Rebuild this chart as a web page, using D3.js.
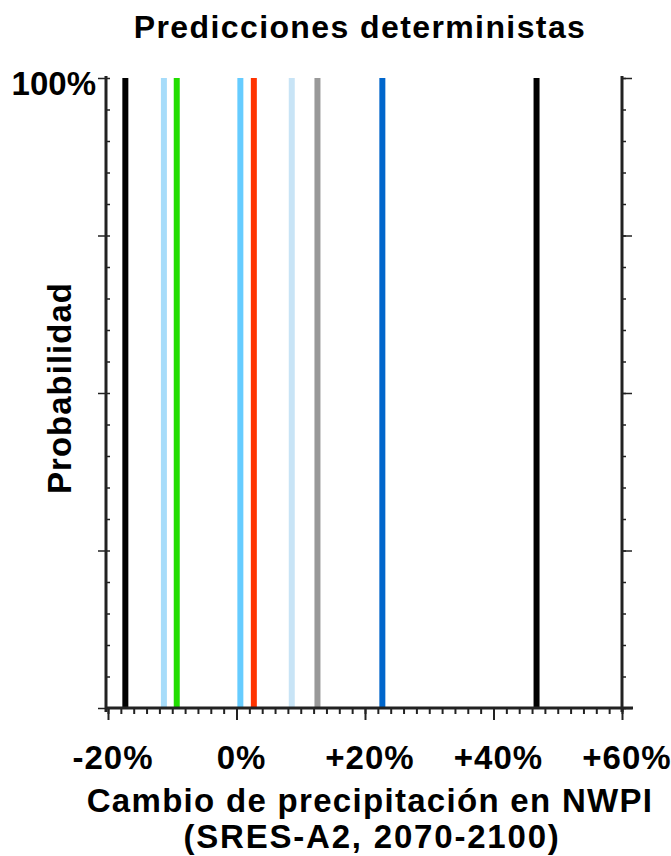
<!DOCTYPE html>
<html><head><meta charset="utf-8">
<script src="https://cdn.jsdelivr.net/npm/d3@7"></script>
<style>
html,body{margin:0;padding:0;background:#fff;}
svg{display:block;}
text{font-family:"Liberation Sans",Arial,sans-serif;font-weight:bold;fill:#000;}
</style></head>
<body>
<svg id="chart" width="671" height="856"></svg>
<script>
// Data: deterministic model predictions (% change in precipitation)
const models = ["m1","m2","m3","m4","m5","m6","m7","m8","m9"];
const changes = [-17.3, -11.3, -9.3, 0.6, 2.7, 8.6, 12.6, 22.7, 46.7];
const modelColors = ["#000000","#a6dcfa","#22dd00","#66ccff","#ff3300","#c8e4f6","#999999","#0066cc","#000000"];
const xTicks = [-20, 0, 20, 40, 60];
const xTickLabels = ["-20%","0%","+20%","+40%","+60%"];
const yTopLabel = "100%";
const title = "Predicciones deterministas";
const xTitle1 = "Cambio de precipitación en NWPI";
const xTitle2 = "(SRES-A2, 2070-2100)";
const yTitle = "Probabilidad";

(function () {
const svg = d3.select("#chart");
const mLeft = 108, mRight = 622, mTop = 78, mBottom = 708;
const x = d3.scaleLinear().domain([-20, 60]).range([mLeft, mRight]);
const y = d3.scaleLinear().domain([0, 100]).range([mBottom, mTop]);

// data lines
svg.append("g").selectAll("line").data(changes).join("line")
  .attr("x1", d => x(d)).attr("x2", d => x(d))
  .attr("y1", y(0)).attr("y2", y(100))
  .attr("stroke", (d,i) => modelColors[i]).attr("stroke-width", 6);

const axisColor = "#222";
// x axis
const gx = svg.append("g").attr("transform", `translate(0,${mBottom})`);
gx.append("g").call(d3.axisBottom(x).tickValues(d3.range(-20, 61, 2)).tickSize(6).tickFormat(""));
gx.append("g").call(d3.axisBottom(x).tickValues(xTicks).tickSize(12).tickFormat(""));
gx.selectAll(".domain").remove();
gx.selectAll("line").attr("stroke", axisColor).attr("stroke-width", 2);
gx.append("line").attr("x1", mLeft - 3).attr("x2", mRight + 11).attr("y1", 0).attr("y2", 0)
  .attr("stroke", axisColor).attr("stroke-width", 3);

// x tick labels
svg.append("g").selectAll("text").data(xTicks).join("text")
  .attr("x", d => x(d) + 5).attr("y", 769).attr("text-anchor", "middle")
  .attr("font-size", 33).attr("letter-spacing", 1)
  .text((d,i) => xTickLabels[i]);

// left y axis
const gyl = svg.append("g").attr("transform", `translate(${mLeft - 2},0)`);
gyl.append("g").call(d3.axisLeft(y).tickValues(d3.range(0, 101, 5)).tickSize(-4).tickFormat(""));
gyl.append("g").call(d3.axisLeft(y).tickValues([0,25,50,75,100]).tickSize(8).tickFormat(""));
gyl.selectAll(".domain").remove();
gyl.selectAll("line").attr("stroke", axisColor).attr("stroke-width", 1.5);
gyl.append("line").attr("x1", 0).attr("x2", 0).attr("y1", mTop - 2).attr("y2", mBottom + 4)
  .attr("stroke", axisColor).attr("stroke-width", 3);

// right y axis
const gyr = svg.append("g").attr("transform", `translate(${mRight},0)`);
gyr.append("g").call(d3.axisRight(y).tickValues(d3.range(0, 101, 5)).tickSize(4).tickFormat(""));
gyr.append("g").call(d3.axisRight(y).tickValues([0,25,50,75,100]).tickSize(10).tickFormat(""));
gyr.selectAll(".domain").remove();
gyr.selectAll("line").attr("stroke", axisColor).attr("stroke-width", 1.5);
gyr.append("line").attr("x1", 0).attr("x2", 0).attr("y1", mTop - 2).attr("y2", mBottom + 4)
  .attr("stroke", axisColor).attr("stroke-width", 3);

// y top label
svg.append("text").attr("x", 96).attr("y", 95).attr("text-anchor", "end")
  .attr("font-size", 33).attr("letter-spacing", 0).text(yTopLabel);

// titles
svg.append("text").attr("x", 360).attr("y", 38).attr("text-anchor", "middle")
  .attr("font-size", 32).attr("letter-spacing", 1.4).text(title);
svg.append("text").attr("x", 370).attr("y", 812).attr("text-anchor", "middle")
  .attr("font-size", 33).attr("letter-spacing", 1.3).text(xTitle1);
svg.append("text").attr("x", 372).attr("y", 848).attr("text-anchor", "middle")
  .attr("font-size", 33).attr("letter-spacing", 1.8).text(xTitle2);
svg.append("text").attr("transform", "translate(71,388) rotate(-90)").attr("text-anchor", "middle")
  .attr("font-size", 33).attr("letter-spacing", 1).text(yTitle);
})();
</script>
</body></html>
